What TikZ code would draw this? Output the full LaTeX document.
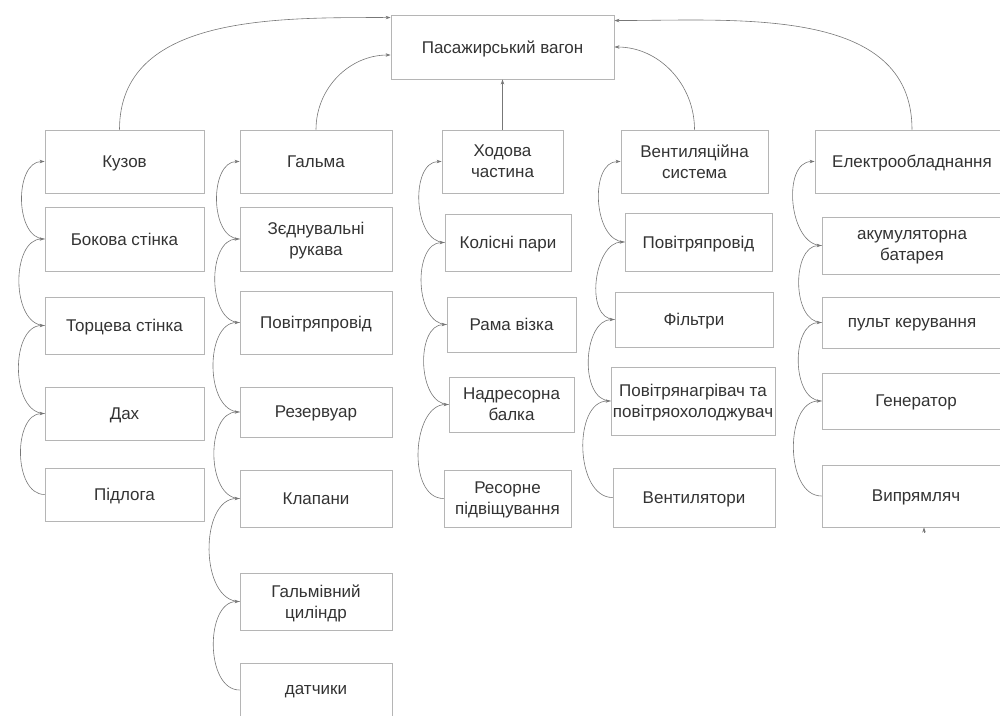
\documentclass[tikz,border=0pt]{standalone}
\usepackage{fontspec}
\setmainfont{Liberation Sans}
\usetikzlibrary{arrows.meta}
\definecolor{boxline}{HTML}{B5B5B5}
\definecolor{wire}{HTML}{777777}
\definecolor{txt}{HTML}{333333}
\tikzset{
  box/.style={draw=boxline, line width=0.9pt, inner sep=0pt, align=center,
    text=txt, text depth=0pt, font=\fontsize{17}{21}\selectfont},
  arr/.style={draw=wire, line width=0.6pt, -{Stealth[length=5pt,width=3.5pt]}},
}
\begin{document}
\begin{tikzpicture}[x=1pt,y=-1pt]
  \useasboundingbox (0,0) rectangle (1000,715);
  \clip (0,0) rectangle (1000,715);

  \node[box, minimum width=223, minimum height=64] (pas) at (502.5,47) {Пасажирський вагон};

  % Кузов
  \node[box, minimum width=159, minimum height=63] (kuz) at (124.5,161.5) {Кузов};
  \node[box, minimum width=159, minimum height=64] (bok) at (124.5,239) {Бокова стінка};
  \node[box, minimum width=159, minimum height=57] (tor) at (124.5,325.5) {Торцева стінка};
  \node[box, minimum width=159, minimum height=53] (dah) at (124.5,413.5) {Дах};
  \node[box, minimum width=159, minimum height=53] (pid) at (124.5,494.5) {Підлога};

  % Гальма
  \node[box, minimum width=152, minimum height=63] (gal) at (316,161.5) {Гальма};
  \node[box, minimum width=152, minimum height=64] (zed) at (316,239) {Зєднувальні\\рукава};
  \node[box, minimum width=152, minimum height=63] (pov) at (316,322.5) {Повітряпровід};
  \node[box, minimum width=152, minimum height=50] (rez) at (316,412) {Резервуар};
  \node[box, minimum width=152, minimum height=57] (kla) at (316,498.5) {Клапани};
  \node[box, minimum width=152, minimum height=57] (cyl) at (316,601.5) {Гальмівний\\циліндр};
  \node[box, minimum width=152, minimum height=54] (dat) at (316,690) {датчики};

  % Ходова частина
  \node[box, minimum width=121, minimum height=63] (hod) at (502.5,161.5) {Ходова\\частина};
  \node[box, minimum width=126, minimum height=57] (kol) at (508,242.5) {Колісні пари};
  \node[box, minimum width=129, minimum height=55] (ram) at (511.5,324.5) {Рама візка};
  \node[box, minimum width=125, minimum height=55] (nad) at (511.5,404.5) {Надресорна\\балка};
  \node[box, minimum width=127, minimum height=57] (res) at (507.5,498.5) {Ресорне\\підвіщування};

  % Вентиляційна система
  \node[box, minimum width=147, minimum height=63] (ven) at (694.5,161.5) {Вентиляційна\\система};
  \node[box, minimum width=147, minimum height=58] (vpov) at (698.5,242) {Повітряпровід};
  \node[box, minimum width=158, minimum height=55] (fil) at (694,319.5) {Фільтри};
  \node[box, minimum width=164, minimum height=68] (nag) at (693,401) {Повітрянагрівач та\\повітряохолоджувач};
  \node[box, minimum width=162, minimum height=59] (vnt) at (694,497.5) {Вентилятори};

  % Електрообладнання
  \node[box, minimum width=194, minimum height=63] (el) at (912,161.5) {Електрообладнання};
  \node[box, minimum width=180, minimum height=57] (aku) at (912,245.5) {акумуляторна\\батарея};
  \node[box, minimum width=180, minimum height=51] (pul) at (912,322.5) {пульт керування};
  \node[box, minimum width=188, minimum height=56] (gen) at (916,401) {Генератор};
  \node[box, minimum width=188, minimum height=62] (vyp) at (916,496) {Випрямляч};

  \draw[arr] ([xshift=-5pt]kuz.north) to[out=90,in=180] ([yshift=-3pt]pas.north west);
  \draw[arr] (gal.north) to[out=90,in=180] ([yshift=-8pt]pas.west);
  \draw[arr] (hod.north) -- (pas.south);
  \draw[arr] (ven.north) to[out=90,in=0] (pas.east);
  \draw[arr] (el.north) to[out=90,in=0] ([yshift=-6pt]pas.north east);

  \foreach \lo/\up in {bok/kuz,tor/bok,dah/tor,pid/dah,
      zed/gal,pov/zed,rez/pov,kla/rez,cyl/kla,dat/cyl,
      kol/hod,ram/kol,nad/ram,res/nad,
      vpov/ven,fil/vpov,nag/fil,vnt/nag,
      aku/el,pul/aku,gen/pul,vyp/gen}
    \draw[arr] (\lo.west) to[out=180,in=180] (\up.west);

  \coordinate (vyptip) at (924,533);
  \draw[arr] (vyptip) -- (vyptip |- vyp.south);
\end{tikzpicture}
\end{document}
